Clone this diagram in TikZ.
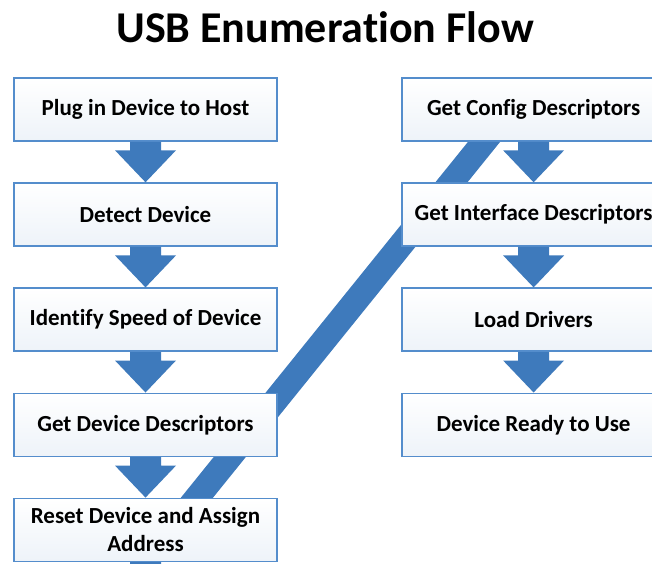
\documentclass[tikz,border=0pt]{standalone}
\usepackage{fontspec}
\setmainfont{Carlito}[Ligatures=NoCommon]
\usetikzlibrary{positioning, calc, backgrounds}
\definecolor{boxline}{RGB}{84,141,204}
\definecolor{flowblue}{RGB}{62,122,188}
\colorlet{boxshade}{flowblue!9}

\begin{document}
\begin{tikzpicture}[x=1pt, y=1pt,
    node distance=40.5pt,
    stage/.style={rectangle, 
      draw=boxline, 
      line width=1.6pt, 
      top color=white, 
      bottom color=boxshade, 
      minimum width=263pt, 
      minimum height=63pt, 
      inner sep=0pt, 
      align=center, 
      font=\fontsize{23}{28}\selectfont\bfseries},
    flow/.style={fill=flowblue},
    band/.style={draw=flowblue, 
      line width=25pt, 
      shorten <=-12pt, 
      shorten >=-12pt}]
  \useasboundingbox (0,0) rectangle (652,-563);
  \clip (0,0) rectangle (652,-563);

% TITLE

  \node[anchor=base, font=\fontsize{44}{50}\selectfont\bfseries] (title) at (325,-42) 
    {USB Enumeration Flow};

% LEFT COLUMN

  \node[stage] (plug) at (145.5,-109.5) {Plug in Device to Host};
  \node[stage, below=of plug] (detect) {Detect Device};
  \node[stage, below=of detect] (speed) {Identify Speed of Device};
  \node[stage, below=of speed] (devdesc) {Get Device Descriptors};
  \node[stage, below=of devdesc] (reset) {Reset Device and Assign\\Address};
  \coordinate[below=42pt of reset] (next);

% RIGHT COLUMN

  \node[stage, right=123.5pt of plug] (config) {Get Config Descriptors};
  \node[stage, below=of config] (iface) {Get Interface Descriptors};
  \node[stage, below=of iface] (drivers) {Load Drivers};
  \node[stage, below=of drivers] (ready) {Device Ready to Use};

% ARROWS

  \foreach \a/\b in {plug/detect, detect/speed, speed/devdesc, devdesc/reset, 
    config/iface, iface/drivers, drivers/ready}
    \fill[flow] ($(\a.south)+(-15.5,0)$) -- ($(\b.north)+(-15.5,32)$) -- ++(-15,0) 
      -- (\b.north) -- ($(\b.north)+(30.5,32)$) -- ++(-15,0) 
      -- ($(\a.south)+(15.5,0)$) -- cycle;

  \fill[flow] ($(reset.south)+(-15.5,0)$) -- ($(next)+(-15.5,32)$) -- ++(-15,0) 
    -- (next) -- ($(next)+(30.5,32)$) -- ++(-15,0) 
    -- ($(reset.south)+(15.5,0)$) -- cycle;

  % reset -> config, behind the boxes
  \begin{scope}[on background layer]
    \draw[band] ($(reset.north)+(51.5,0)$) -- ($(config.south)+(-49.5,0)$);
  \end{scope}

\end{tikzpicture}
\end{document}
